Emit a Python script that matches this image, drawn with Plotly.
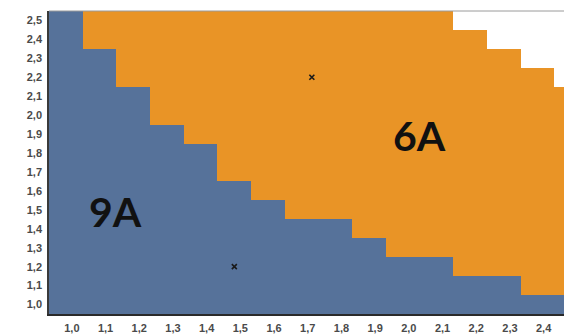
import plotly.graph_objects as go

# Category axis values and their labels
x_values = [1.0, 1.1, 1.2, 1.3, 1.4, 1.5, 1.6, 1.7, 1.8, 1.9, 2.0, 2.1, 2.2, 2.3, 2.4, 2.5]
y_values = [1.0, 1.1, 1.2, 1.3, 1.4, 1.5, 1.6, 1.7, 1.8, 1.9, 2.0, 2.1, 2.2, 2.3, 2.4, 2.5]
x_tick_labels = ["1,0", "1,1", "1,2", "1,3", "1,4", "1,5", "1,6", "1,7", "1,8", "1,9",
                 "2,0", "2,1", "2,2", "2,3", "2,4", "2,5"]
y_tick_labels = ["1,0", "1,1", "1,2", "1,3", "1,4", "1,5", "1,6", "1,7", "1,8", "1,9",
                 "2,0", "2,1", "2,2", "2,3", "2,4", "2,5"]

# Highest y value that belongs to each region, per x column
max_y_9A = [2.5, 2.3, 2.1, 1.9, 1.8, 1.6, 1.5, 1.4, 1.4, 1.3, 1.2, 1.2, 1.1, 1.1, 1.0, 1.0]
max_y_6A = [2.5, 2.5, 2.5, 2.5, 2.5, 2.5, 2.5, 2.5, 2.5, 2.5, 2.5, 2.5, 2.4, 2.3, 2.2, 2.1]

# Marked points
point_x = [1.73, 1.5]
point_y = [2.2, 1.2]

# Region labels
region_names = ["9A", "6A"]
region_x = [1.146, 2.048]
region_y = [1.49, 1.895]

BLUE = "#56729a"
ORANGE = "#e99426"

z = []
for yv in y_values:
    row = []
    for i, _ in enumerate(x_values):
        if round(yv * 10) <= round(max_y_9A[i] * 10):
            row.append(0)
        elif round(yv * 10) <= round(max_y_6A[i] * 10):
            row.append(1)
        else:
            row.append(None)
    z.append(row)

fig = go.Figure()
fig.add_trace(go.Heatmap(
    x=x_values, y=y_values, z=z,
    zmin=0, zmax=1,
    colorscale=[[0, BLUE], [0.5, BLUE], [0.5, ORANGE], [1, ORANGE]],
    showscale=False, hoverinfo="skip",
))
fig.add_trace(go.Scatter(
    x=point_x, y=point_y, mode="markers",
    marker=dict(symbol="x-thin", size=5, color="#1a1a1a", line=dict(width=1.6, color="#1a1a1a")),
    showlegend=False,
))

for name, xx, yy in zip(region_names, region_x, region_y):
    fig.add_annotation(x=xx, y=yy, text=name, showarrow=False,
                       font=dict(family="Lato", size=41, color="#111111", weight="bold"))

fig.add_shape(type="line", xref="paper", yref="paper", x0=0, x1=1, y0=1, y1=1,
              line=dict(color="#9a9a9a", width=1))

fig.update_layout(
    width=564, height=326,
    margin=dict(l=41, r=0, t=3, b=20, autoexpand=False),
    paper_bgcolor="white", plot_bgcolor="white",
    showlegend=False,
    xaxis=dict(
        range=[0.95, 2.502], tickvals=x_values, ticktext=x_tick_labels,
        showgrid=False, zeroline=False, ticks="", ticklabelshift=6,
        ticklabelstandoff=3, automargin=False,
        showline=True, linecolor="#2a2a2a", linewidth=2,
        tickfont=dict(family="Liberation Sans", size=11, color="#4a4a4a", weight="bold"),
    ),
    yaxis=dict(
        range=[0.95, 2.55], tickvals=y_values, ticktext=y_tick_labels,
        showgrid=False, zeroline=False, ticks="", automargin=False,
        ticklabelstandoff=3,
        showline=True, linecolor="#3a3a3a", linewidth=1.5,
        tickfont=dict(family="Liberation Sans", size=11, color="#4a4a4a", weight="bold"),
    ),
)

fig.write_html("out.html")
